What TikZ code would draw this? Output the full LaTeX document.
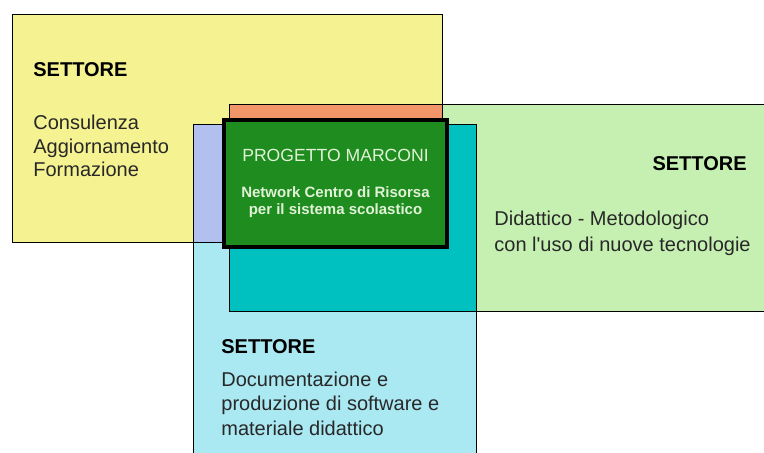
\documentclass[tikz,border=0pt]{standalone}
\usepackage{fontspec}
\setmainfont{Liberation Sans}
\usepackage{tikz}
\usetikzlibrary{positioning}
\definecolor{giallo}{RGB}{245,242,145}
\definecolor{verde}{RGB}{198,240,178}
\definecolor{azzurro}{RGB}{170,232,242}
\definecolor{arancio}{RGB}{242,150,105}
\definecolor{lilla}{RGB}{178,192,240}
\definecolor{ciano}{RGB}{0,192,192}
\definecolor{verdescuro}{RGB}{30,140,30}
\definecolor{chiaro}{RGB}{225,242,215}
\definecolor{testo}{RGB}{40,40,40}
\tikzstyle{bordo} = [draw=black, line width=0.5pt]
\tikzstyle{titolo} = [inner sep=0pt, anchor=base west, font=\bfseries\fontsize{10}{12}\selectfont]
\tikzstyle{voce} = [inner sep=0pt, anchor=base west, align=left, text=testo]

\begin{document}
\begin{tikzpicture}[x=0.5pt, y=-0.5pt]
\useasboundingbox (0,0) rectangle (764,453);
% settori
\fill [giallo] (12,15) rectangle (442,243);
\fill [verde] (229,105) rectangle (764,312);
\fill [azzurro] (193,125) rectangle (476,453);
% sovrapposizioni
\fill [arancio] (229,105) rectangle (442,243);
\fill [lilla] (193,125) rectangle (442,243);
\fill [ciano] (229,125) rectangle (476,312);
\draw [bordo] (12,15) rectangle (442,243);
\draw [bordo] (764,105) -- (229,105) -- (229,312) -- (764,312);
\draw [bordo] (193,453) -- (193,125) -- (476,125) -- (476,453);
% centro
\draw [line width=2pt, fill=verdescuro] (224,120) rectangle (447,247);
\node [inner sep=0pt, anchor=base, text=chiaro, font=\fontsize{8.8}{10}\selectfont] (progetto) at (335.5,162) {PROGETTO MARCONI};
\node [inner sep=0pt, anchor=base, align=center, text=chiaro, font=\bfseries\fontsize{7.5}{8.5}\selectfont] (network) at (335.5,215) {Network Centro di Risorsa\\per il sistema scolastico};
% testi (base = ultima riga)
\node [titolo] (S1) at (33,77) {SETTORE};
\node [voce, font=\fontsize{10}{11.75}\selectfont] (T1) at (33,177) {Consulenza\\Aggiornamento\\Formazione};
\node [titolo, anchor=base east] (S2) at (747,171) {SETTORE};
\node [voce, font=\fontsize{10}{13.4}\selectfont] (T2) at (494,252) {Didattico - Metodologico\\con l\textquotesingle uso di nuove tecnologie};
\node [titolo] (S3) at (221,354) {SETTORE};
\node [voce, font=\fontsize{10}{12.25}\selectfont] (T3) at (221,435) {Documentazione e\\produzione di software e\\materiale didattico};
\end{tikzpicture}
\end{document}
